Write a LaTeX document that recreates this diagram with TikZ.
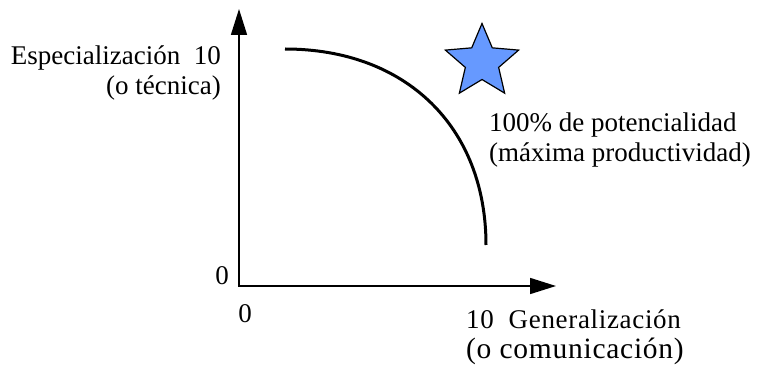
\documentclass[tikz,border=0pt]{standalone}
\usepackage{fontspec}
\setmainfont{Liberation Serif}
\usepackage{tikz}
\usetikzlibrary{positioning,shapes.geometric,arrows.meta}
\definecolor{starblue}{HTML}{6699FF}
\tikzset{
  axis/.style={{Triangle[length=26pt,width=16pt]}-{Triangle[length=26pt,width=16pt]}, line width=1.6pt},
  frontier/.style={line width=3pt},
  axlabel/.style={inner sep=0pt, align=left},
  goal/.style={star, star points=5, star point ratio=2.2, draw, line width=1.2pt, fill=starblue, minimum size=77pt, inner sep=0pt}
}
\begin{document}
\begin{tikzpicture}[x=1pt, y=-1pt, font=\fontsize{27}{30}\selectfont]
  \useasboundingbox (0,0) rectangle (761,366);
  \coordinate (orig) at (239,286);
  \coordinate (ytip) at (239,9);
  \coordinate (xtip) at (556,286);
  \coordinate (fstart) at (285,49);
  \coordinate (fend) at (486,245);

  \draw[axis] (ytip) -- (orig) -- (xtip);
  \draw[frontier] (fstart) .. controls +(121,0) and +(0,-118) .. (fend);
  \node[goal] (best) at (482,62) {};

  \node[axlabel, align=right, anchor=base east] (ylab) at (221,95) {Especialización\ \ 10\\(o técnica)};
  \node[axlabel, anchor=base west] (potlab) at (489,162) {100\% de potencialidad\\(máxima productividad)};
  \node[axlabel, anchor=base west] (xlab) at (466,358)
    {{\addfontfeature{LetterSpace=2.5}10\ \ Generalización}\\{\fontsize{29.5}{30}\selectfont\addfontfeature{LetterSpace=2.5}(o comunicación)}};
  \node[axlabel, anchor=base east] (yzero) at (229,285) {0};
  \node[axlabel, anchor=base] (xzero) at (245,323) {0};
\end{tikzpicture}
\end{document}
